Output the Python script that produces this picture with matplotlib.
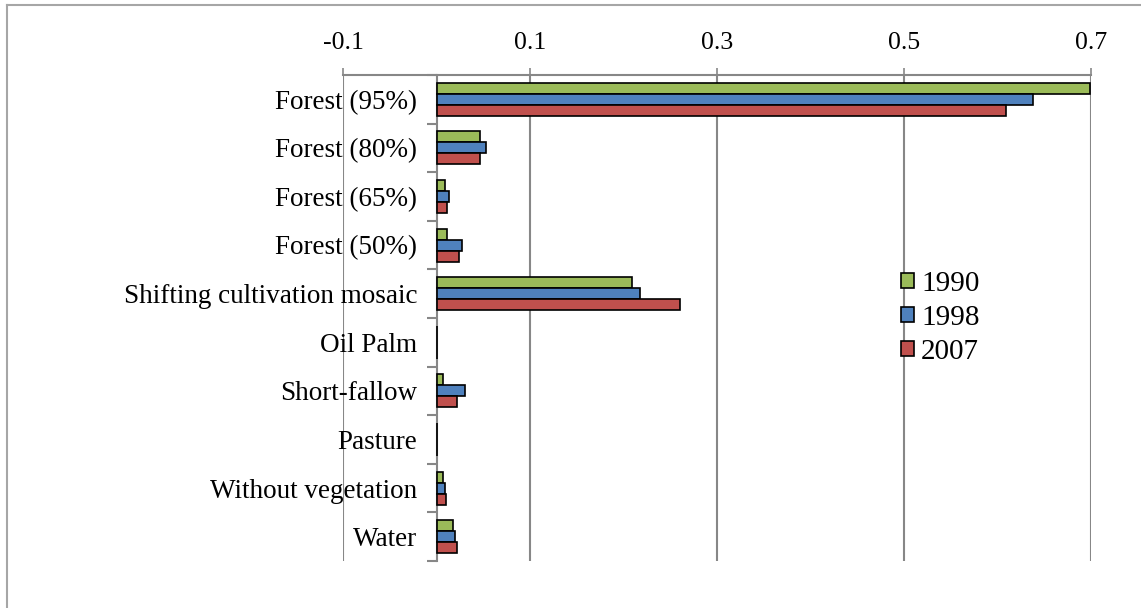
import matplotlib.pyplot as plt
import numpy as np
from matplotlib.lines import Line2D

plt.rcParams['font.family'] = ['Liberation Serif', 'DejaVu Serif']

categories = ['Forest (95%)', 'Forest (80%)', 'Forest (65%)', 'Forest (50%)',
              'Shifting cultivation mosaic', 'Oil Palm', 'Short-fallow',
              'Pasture', 'Without vegetation', 'Water']
years = ['1990', '1998', '2007']
v1990 = [0.699, 0.046, 0.009, 0.011, 0.209, 0.001, 0.007, 0.001, 0.007, 0.018]
v1998 = [0.638, 0.053, 0.013, 0.027, 0.218, 0.001, 0.030, 0.001, 0.009, 0.020]
v2007 = [0.609, 0.046, 0.011, 0.024, 0.260, 0.001, 0.022, 0.001, 0.010, 0.022]
colores = ['#9BBB59', '#4F81BD', '#C0504D']

fig = plt.figure(figsize=(11.41, 6.08), dpi=100)
ax = fig.add_axes([343 / 1141, 1 - 561 / 608, (1091 - 343) / 1141, (561 - 75) / 608])

# borde exterior (solo arriba e izquierda se ven)
fig.add_artist(Line2D([7 / 1141, 1], [1 - 5 / 608, 1 - 5 / 608], transform=fig.transFigure,
                      color='#a6a6a6', linewidth=1.5))
fig.add_artist(Line2D([7 / 1141, 7 / 1141], [0, 1 - 5 / 608], transform=fig.transFigure,
                      color='#a6a6a6', linewidth=1.5))

y = np.arange(len(categories))
h = 0.226
for k, (serie, c) in enumerate(zip([v1990, v1998, v2007], colores)):
    ax.barh(y + (k - 1) * h, serie, height=h, color=c, edgecolor='black', linewidth=1.2,
            label=years[k], zorder=3)

ax.set_xlim(-0.1, 0.7)
ax.set_ylim(len(categories) - 0.5, -0.5)
ax.set_xticks([-0.1, 0.1, 0.3, 0.5, 0.7])
ax.set_xticklabels(['-0.1', '0.1', '0.3', '0.5', '0.7'])
ax.xaxis.tick_top()
ax.tick_params(axis='x', labelsize=18.5, length=5, color='#878787', width=1.2, pad=10)
ax.grid(axis='x', color='#878787', linewidth=1.5, zorder=0)

# eje vertical en cero
ax.spines['left'].set_position(('data', 0))
ax.spines['left'].set_color('#878787')
ax.spines['left'].set_linewidth(1.5)
ax.spines['left'].set_zorder(2.5)
ax.spines['top'].set_color('#878787')
ax.spines['top'].set_linewidth(1.5)
ax.spines['right'].set_visible(False)
ax.spines['bottom'].set_visible(False)

ax.set_yticks(np.arange(len(categories) + 1) - 0.5)
ax.set_yticklabels([])
ax.set_yticks(y, minor=True)
ax.set_yticklabels(categories, minor=True)
ax.tick_params(axis='y', which='major', length=7, color='#878787', width=1.5, direction='out')
ax.tick_params(axis='y', which='minor', length=0, labelsize=19.5, pad=14)

leg = ax.legend(loc='center left', bbox_to_anchor=(0.731, 0.5), frameon=False, fontsize=21,
                handlelength=0.42, handleheight=0.42, handletextpad=0.25, labelspacing=0.27,
                borderaxespad=0)

fig.savefig('out.png', dpi=100)
